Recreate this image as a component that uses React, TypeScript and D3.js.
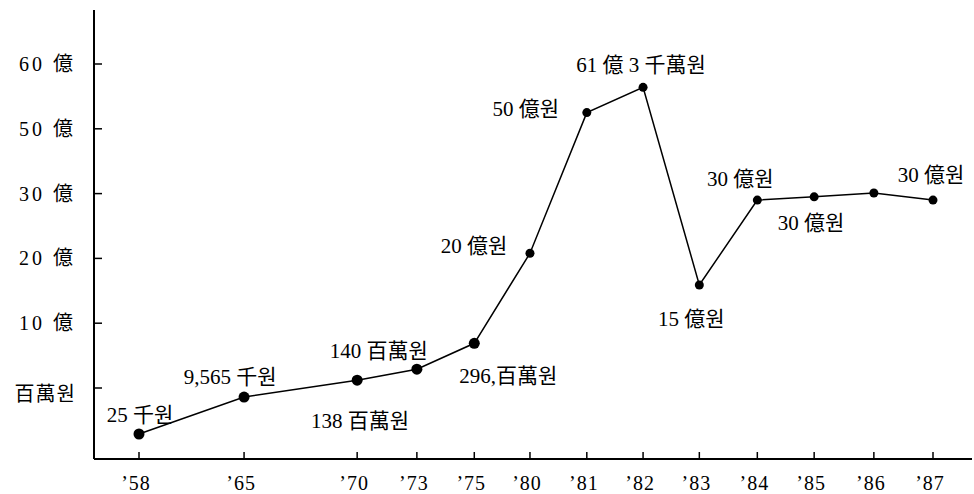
import React from "react";
import * as d3 from "d3";

// ---- data ----
const years = ["’58", "’65", "’70", "’73", "’75", "’80", "’81", "’82", "’83", "’84", "’85", "’86", "’87"];
// printed axis is not uniform: relative position of each year along the axis
const yearSlot = [0, 1.83, 3.8, 4.84, 5.84, 6.81, 7.8, 8.78, 9.76, 10.77, 11.76, 12.8, 13.83];
// y axis labels (equally spaced levels on the printed, non-linear axis)
const yTickLabels = ["百萬원", "10 億", "20 億", "30 億", "50 億", "60 億"];
// series, expressed in the printed axis level units (0 = 百萬원 tick, 1 = 10億 tick, ...)
const seriesLevel = [-0.71, -0.14, 0.12, 0.29, 0.69, 2.08, 4.25, 4.64, 1.59, 2.9, 2.95, 3.01, 2.9];
const pointLabels = [
  "25 千원", "9,565 千원", "138 百萬원", "140 百萬원", "296,百萬원", "20 億원",
  "50 億원", "61 億 3 千萬원", "15 億원", "30 億원", "30 億원", "", "30 億원",
];

// ---- layout ----
const W = 974;
const H = 494;
const axisX = 94;
const axisY = 459;
const axisTop = 10;
const axisRight = 972;
const labelOffsets: [number, number][] = [
  [1, -12], [-14, -13], [3, 48], [-38, -11], [34, 40], [-56, 0],
  [-61, 3], [-2, -15], [-8, 41], [-17, -14], [-3, 33], [0, 0], [-2, -18],
];
const FONT = "'Liberation Serif', 'Noto Sans CJK KR', serif";

export default function App() {
  const x = d3.scaleLinear().domain([0, 13.83]).range([139, 933]);
  const y = d3.scaleLinear().domain([0, 5]).range([388, 64]);

  const pts = years.map((yr, i) => ({ yr, px: x(yearSlot[i]), py: y(seriesLevel[i]), label: pointLabels[i], off: labelOffsets[i] }));
  const line = d3.line<{ px: number; py: number }>().x((d) => d.px).y((d) => d.py);

  return (
    <svg width={W} height={H} style={{ position: "absolute", left: 0, top: 0, background: "#fff" }} fontFamily={FONT}>
      {/* axes */}
      <line x1={axisX} y1={axisTop} x2={axisX} y2={axisY} stroke="#000" strokeWidth={2} />
      <line x1={axisX} y1={axisY} x2={axisRight} y2={axisY} stroke="#000" strokeWidth={2} />
      {yTickLabels.map((t, i) => (
        <g key={t}>
          <line x1={axisX} x2={axisX + 8} y1={y(i)} y2={y(i)} stroke="#000" strokeWidth={1.5} />
          <text
            x={76}
            y={y(i) + (i === 0 ? 13 : 7)}
            textAnchor="end"
            fontSize={20}
            letterSpacing={i === 0 ? 1 : 3}
            fill="#000"
          >
            {t}
          </text>
        </g>
      ))}
      {years.map((yr, i) => (
        <g key={yr}>
          <line x1={x(yearSlot[i])} x2={x(yearSlot[i])} y1={axisY} y2={axisY - 7} stroke="#000" strokeWidth={1.5} />
          <text x={x(yearSlot[i]) - 3} y={490} textAnchor="middle" fontSize={20} letterSpacing={1} fill="#000">
            {yr}
          </text>
        </g>
      ))}
      {/* series */}
      <path d={line(pts) || ""} fill="none" stroke="#000" strokeWidth={1.5} />
      {pts.map((p, i) => (
        <circle key={i} cx={p.px} cy={p.py} r={i < 5 ? 5.5 : 4.5} fill="#000" />
      ))}
      {pts.map((p, i) =>
        p.label ? (
          <text key={"l" + i} x={p.px + p.off[0]} y={p.py + p.off[1]} textAnchor="middle" fontSize={21} fill="#000">
            {p.label}
          </text>
        ) : null
      )}
    </svg>
  );
}
